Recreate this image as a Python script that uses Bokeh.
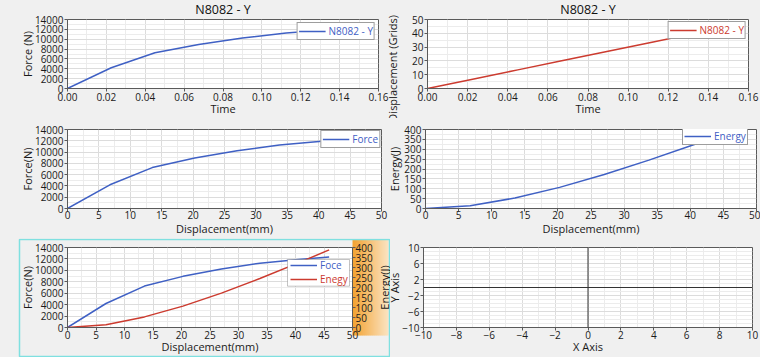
import math
from bokeh.plotting import figure
from bokeh.models import (Range1d, LinearAxis, FixedTicker, NumeralTickFormatter, Legend,
                          LegendItem, BoxAnnotation, Span)
from bokeh.layouts import row, column
from bokeh.embed import file_html
from bokeh.resources import INLINE
from bokeh.core.properties import value

# ---------------- data ----------------
time_s = [0.0, 0.0225, 0.045, 0.0675, 0.09, 0.1125, 0.135, 0.153]
force_n = [0, 4200, 7250, 8950, 10250, 11250, 11900, 12350]
disp_mm = [0.0, 6.75, 13.5, 20.25, 27.0, 33.75, 40.5, 45.9]
energy_j = [0, 14, 53, 107, 172, 245, 323, 388]

title_text = "N8082 - Y"
time_ticks = [0.0, 0.02, 0.04, 0.06, 0.08, 0.10, 0.12, 0.14, 0.16]
force_ticks = [0, 2000, 4000, 6000, 8000, 10000, 12000, 14000]
grid_disp_ticks = [0, 10, 20, 30, 40, 50]
disp_ticks = [0, 5, 10, 15, 20, 25, 30, 35, 40, 45, 50]
energy_ticks = [0, 50, 100, 150, 200, 250, 300, 350, 400]
xaxis_ticks = [-10, -8, -6, -4, -2, 0, 2, 4, 6, 8, 10]
yaxis_ticks = [-10, -6, -2, 2, 6, 10]

# ---------------- styles ----------------
FONT = "Open Sans"
BG = "#f0f0f0"
AXC = "#5a5a5a"
TXT = "#1a1a1a"
BLUE = "#3f60c4"
RED = "#cc3b2f"
GRID = "#dcdcdc"
MINOR = "#ececec"
CYAN = "#7fe0e0"


def mids(t):
    return [(a + b) / 2 for a, b in zip(t[:-1], t[1:])]


def make_fig(w, h, bl, br, bt, bb, xr, yr, title=None):
    p = figure(width=w, height=h, x_range=xr, y_range=yr, output_backend="svg",
               toolbar_location=None, title=title,
               min_border_left=bl, min_border_right=br, min_border_top=bt, min_border_bottom=bb,
               background_fill_color="white", border_fill_color=BG, border_fill_alpha=0,
               outline_line_color=AXC, outline_line_width=1)
    if title is not None:
        p.title.align = "center"
        p.title.vertical_align = "top"
        p.title.text_font = FONT
        p.title.text_font_size = "12.5px"
        p.title.text_font_style = "normal"
        p.title.text_color = "#111111"
        p.title.standoff = 0
    return p


def style_axis(ax, grid, ticks, minor, fmt=None, tso=0, label=None, lso=0):
    tk = FixedTicker(ticks=ticks, minor_ticks=minor)
    ax.ticker = tk
    if grid is not None:
        grid.ticker = tk
        grid.grid_line_color = GRID
        grid.minor_grid_line_color = MINOR
    if fmt:
        ax.formatter = NumeralTickFormatter(format=fmt)
    ax.axis_line_color = AXC
    ax.major_tick_line_color = AXC
    ax.major_tick_out = 3
    ax.major_tick_in = 0
    ax.minor_tick_line_color = None
    ax.major_label_text_font = FONT
    ax.major_label_text_font_size = "10px"
    ax.major_label_text_color = TXT
    ax.major_label_standoff = tso
    if label:
        ax.axis_label = label
        ax.axis_label_text_font = FONT
        ax.axis_label_text_font_size = "11px"
        ax.axis_label_text_font_style = "normal"
        ax.axis_label_text_color = TXT
        ax.axis_label_standoff = lso


def legend(items, color, loc, margin=2, pad=1, border=True):
    return Legend(items=items, location=loc, margin=margin, padding=pad, spacing=0,
                  glyph_width=27, glyph_height=12, label_height=12, label_standoff=3,
                  label_text_font=FONT, label_text_font_size="10px", label_text_color=color,
                  label_text_baseline="middle",
                  background_fill_color="white", background_fill_alpha=1 if border else 0,
                  border_line_color="#3c3c3c" if border else None, border_line_width=1)


WL, WR = 390, 378
H1, H2, H3 = 118, 120, 119

# ---------------- A: Force vs Time ----------------
pA = make_fig(WL, H1, 67, 12, 19, 29, Range1d(0, 0.16), Range1d(0, 14000), title=title_text)
style_axis(pA.xaxis[0], pA.xgrid[0], time_ticks, mids(time_ticks), "0.00", 0, "Time", -3)
style_axis(pA.yaxis[0], pA.ygrid[0], force_ticks, mids(force_ticks), None, 0, "Force (N)", -3)
rA = pA.line(time_s, force_n, color=BLUE, line_width=1.5)
pA.add_layout(legend([LegendItem(label="N8082 - Y", renderers=[rA])], BLUE, "top_right", 3))

# ---------------- B: Displacement vs Time ----------------
pB = make_fig(WR, H1, 37, 12, 19, 29, Range1d(0, 0.16), Range1d(0, 50), title=title_text)
pB.margin = (0, 0, 0, -8)
style_axis(pB.xaxis[0], pB.xgrid[0], time_ticks, mids(time_ticks), "0.00", 0, "Time", -3)
style_axis(pB.yaxis[0], pB.ygrid[0], grid_disp_ticks, mids(grid_disp_ticks), None, 0,
           "Displacement (Grids)" + "\u00a0" * 10, 9)
rB = pB.line(time_s, disp_mm, color=RED, line_width=1.5)
pB.add_layout(legend([LegendItem(label="N8082 - Y", renderers=[rB])], RED, "top_right", 2))

# ---------------- C: Force vs Displacement ----------------
pC = make_fig(WL, H2, 67, 9, 11, 29, Range1d(0, 50), Range1d(0, 14000))
style_axis(pC.xaxis[0], pC.xgrid[0], disp_ticks, mids(disp_ticks), None, -2, "Displacement(mm)", -1)
style_axis(pC.yaxis[0], pC.ygrid[0], force_ticks, mids(force_ticks), None, 0, "Force(N)", -3)
rC = pC.line(disp_mm, force_n, color=BLUE, line_width=1.5)
pC.add_layout(legend([LegendItem(label="Force", renderers=[rC])], BLUE, "top_right", 1))

# ---------------- D: Energy vs Displacement ----------------
pD = make_fig(WR, H2, 43, 4, 11, 29, Range1d(0, 50), Range1d(0, 400))
pD.margin = (0, 0, 0, -8)
style_axis(pD.xaxis[0], pD.xgrid[0], disp_ticks, mids(disp_ticks), None, -2, "Displacement(mm)", -1)
style_axis(pD.yaxis[0], pD.ygrid[0], energy_ticks, mids(energy_ticks), None, 0, "Energy(J)", -1)
rD = pD.line(disp_mm, energy_j, color=BLUE, line_width=1.5)
pD.add_layout(legend([LegendItem(label="Energy", renderers=[rD])], BLUE, (257, 63), 0))

# ---------------- G: decoration canvas behind E (cyan frame, orange axis band, right label) ----
pG = figure(width=WL, height=H3, x_range=Range1d(0, WL), y_range=Range1d(H3, 0),
            output_backend="svg", toolbar_location=None, title=None,
            x_axis_type=None, y_axis_type=None,
            min_border_left=0, min_border_right=0, min_border_top=0, min_border_bottom=0,
            background_fill_alpha=0, border_fill_alpha=0, outline_line_color=None)
if "frame_align" in pG.properties():
    pG.frame_align = False
pG.xgrid.visible = False
pG.ygrid.visible = False
band_left, band_w, band_top, band_bottom, n_strips = 352, 36, 1, 97, 18
c0, c1 = (243, 163, 52), (250, 226, 190)
sw = band_w / n_strips
band_l = [band_left + i * sw for i in range(n_strips)]
band_r = [min(band_left + (i + 1) * sw + 0.8, band_left + band_w) for i in range(n_strips)]
band_c = ["#%02x%02x%02x" % tuple(int(round(a + (b - a) * i / (n_strips - 1))) for a, b in zip(c0, c1))
          for i in range(n_strips)]
pG.quad(left=band_l, right=band_r, top=[band_top] * n_strips, bottom=[band_bottom] * n_strips,
        fill_color=band_c, line_color=None)
pG.quad(left=[19], right=[389], top=[1], bottom=[118], fill_alpha=0, line_color=CYAN, line_width=1.5)
pG.text(x=[383.5], y=[49], text=["Energy(J)"], angle=math.pi / 2, text_align="center",
        text_baseline="alphabetic", text_font=value(FONT), text_font_size="11px", text_color=TXT)

# ---------------- E: Force & Energy vs Displacement ----------------
pE = make_fig(WL, H3, 67, 38, 9, 30, Range1d(0, 50), Range1d(0, 14000))
pE.margin = (0, 0, 0, -WL)
style_axis(pE.xaxis[0], pE.xgrid[0], disp_ticks, mids(disp_ticks), None, -1, "Displacement(mm)", -3)
style_axis(pE.yaxis[0], pE.ygrid[0], force_ticks, mids(force_ticks), None, 0, "Force(N)", -3)
pE.extra_y_ranges = {"energy": Range1d(0, 400)}
axE = LinearAxis(y_range_name="energy")
style_axis(axE, None, energy_ticks, [], None, 0)
pE.add_layout(axE, "right")
rEf = pE.line(disp_mm, force_n, color=BLUE, line_width=1.5)
rEe = pE.line(disp_mm, energy_j, color=RED, line_width=1.5, y_range_name="energy")
pE.add_layout(BoxAnnotation(left=220, right=282, bottom=41.3, top=68,
                            left_units="screen", right_units="screen",
                            top_units="screen", bottom_units="screen",
                            fill_color="white", fill_alpha=1, line_color="#3c3c3c", line_width=1))
pE.add_layout(legend([LegendItem(label="Foce", renderers=[rEf])], BLUE, (223, 55), 0, 0, False))
pE.add_layout(legend([LegendItem(label="Enegy", renderers=[rEe])], RED, (223, 41.5), 0, 0, False))

# ---------------- F: empty X/Y axes ----------------
pF = make_fig(WR, H3, 41, 8, 9, 30, Range1d(-10, 10), Range1d(-10, 10))
pF.margin = (0, 0, 0, -8)
style_axis(pF.xaxis[0], pF.xgrid[0], xaxis_ticks, [v for v in range(-9, 10, 2)], None, -1, "X Axis", -3)
style_axis(pF.yaxis[0], pF.ygrid[0], yaxis_ticks, [v for v in range(-9, 10) if v not in yaxis_ticks],
           None, 0, "Y Axis", -3)
pF.add_layout(Span(location=0, dimension="height", line_color="#333333", line_width=1))
pF.add_layout(Span(location=0, dimension="width", line_color="#333333", line_width=1))

root = column(row(pA, pB, spacing=0), row(pC, pD, spacing=0), row(pG, pE, pF, spacing=0),
              spacing=0, styles={"background-color": BG})

open("out.html", "w").write(file_html(root, INLINE))
